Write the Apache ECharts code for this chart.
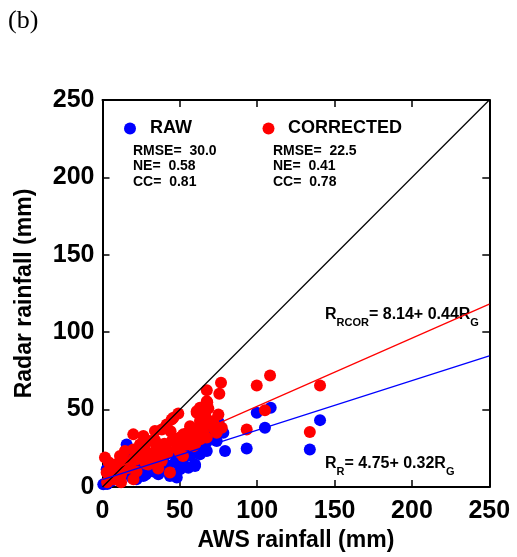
<!DOCTYPE html>
<html>
<head>
<meta charset="utf-8">
<script src="https://cdn.jsdelivr.net/npm/echarts@6/dist/echarts.min.js"></script>
<style>html,body{margin:0;padding:0;background:#fff}#c{width:517px;height:557px}</style>
</head>
<body>
<div id="c"></div>
<script>
// ---- data (AWS rainfall x, Radar rainfall y), mm ----
const rawPoints = [
  [108.7,51.2],[99.7,48],[105,38.3],[140.6,43.2],[134,24.3],[93.2,24.8],[79.2,23.2],
  [67.4,23.2],[73.8,29.7],[78.1,35.1],[68.4,30.8],[59.8,13.5],[48,6.1],
  [15.6,27.5],[2.7,11.4],[18.9,6.1],[26.4,7.1],[36.1,8.2],[43.6,7.1],[50.1,11.4],
  [55.5,12.5],[59.8,14.6],[55.5,21.1],[63,21.1],[66.3,27.5],[68.4,35.1],[17.8,9.3],
  [11.3,5],[4.8,3.9],[30.7,11.4],[24.2,13.5],[0.5,1.7],
  [3,2],[6,4],[9,6],[12,8],[15,10],[20,12],[25,14],[30,15],[35,18],[40,20],[45,22],
  [50,24],[55,26],[60,28],[65,30],[70,33],[22,5],[28,8],[33,10],[38,12],[42,14],
  [47,16],[52,18],[57,20],[62,24],[10,15],[18,20],[25,22],[8,12],[4,8],[72,38],[75,42]
];
const corrPoints = [
  [108.3,72],[99.7,65.6],[140.6,65.6],[76.6,67.3],[75.5,60.2],[67.4,62.5],[105,49.6],
  [93.2,37.2],[134,35.5],[67.7,54.8],[68.4,50.7],[61.9,48.6],[74.9,46.9],[49,47.5],
  [45.8,44.7],[41.5,40.4],[63,42.6],[71.6,42.6],[56.6,39.3],[19.9,34],[26.4,32.9],
  [33.9,36.1],[38.3,37.2],[44.7,43.6],[40.4,38.3],[60.9,49],[60.9,37.2],[64.1,41.5],
  [52.2,34],[46.9,29.7],[1.6,19],[2.7,9.3],[8.1,14.6],[11.3,20],[14.5,23.2],[19.9,24.3],
  [24.2,27.5],[30.7,29.7],[33.9,22.2],[41.5,24.3],[50.1,22.2],[43.6,9.3],[29.6,14.6],
  [11.3,6.1],[7,5],[17.8,12.5],[22.1,17.9],[38.3,16.8],[49,29.7],[54.4,27.5],[67.4,31.9],
  [66.3,46.9],[63,51.2],[67.4,55.4],[66.3,45.8],[60.9,48],[66.3,40.4],[77.1,38.3],
  [73.8,35.1],[60.9,36.1],[63.2,30.8],[58.7,26.4],
  [5,8],[8,5],[10,10],[12,8],[15,12],[18,15],[20,18],[22,10],[25,20],[28,15],[30,22],
  [32,18],[35,25],[38,20],[40,28],[42,22],[45,30],[48,25],[50,32],[52,20],[55,35],
  [58,30],[60,28],[62,33],[65,36],[70,42],[72,38],[12,3],[20,5],[3,3],[6,12],[14,17],
  [24,22],[34,30],[44,36],[36,12],[27,25],[4,16]
];
const fitRaw = [4.75, 0.32];   // intercept, slope
const fitCorr = [8.14, 0.44];
const axisTicks = [0, 50, 100, 150, 200, 250];
const statsRaw = ['RMSE=  30.0', 'NE=  0.58', 'CC=  0.81'];
const statsCorr = ['RMSE=  22.5', 'NE=  0.41', 'CC=  0.78'];

const xMin = axisTicks[0], xMax = axisTicks[axisTicks.length - 1];
const lineOf = f => [[xMin, f[0] + f[1] * xMin], [xMax, f[0] + f[1] * xMax]];

const chart = echarts.init(document.getElementById('c'));
const FONT = 'Liberation Sans, Arial, sans-serif';
const axisCommon = {
  min: xMin, max: xMax, interval: 50,
  axisLine: {show: true, onZero: false, lineStyle: {color: '#000', width: 2}},
  axisTick: {show: true, inside: true, length: 7, lineStyle: {color: '#000', width: 1.5}},
  splitLine: {show: false}
};
const labelStyle = {color: '#000', fontSize: 25, fontWeight: 'bold', fontFamily: FONT};
const nameStyle = {color: '#000', fontSize: 23, fontWeight: 'bold', fontFamily: FONT};

const stat = (x, lines) => lines.map((t, i) => ({
  type: 'text', left: x, top: 144 + i * 15.5,
  style: {text: t, font: 'bold 14px ' + FONT, fill: '#000'}
}));

chart.setOption({
  animation: false,
  grid: {left: 102.5, right: 27.7, top: 100, bottom: 69.3},
  xAxis: [
    Object.assign({}, axisCommon, {type: 'value', position: 'bottom',
      name: 'AWS rainfall (mm)', nameLocation: 'middle', nameGap: 42, nameTextStyle: nameStyle,
      axisLabel: Object.assign({margin: 12}, labelStyle)}),
    Object.assign({}, axisCommon, {type: 'value', position: 'top', axisLabel: {show: false}})
  ],
  yAxis: [
    Object.assign({}, axisCommon, {type: 'value', position: 'left',
      name: 'Radar rainfall (mm)', nameLocation: 'middle', nameGap: 66, nameTextStyle: nameStyle,
      axisLabel: Object.assign({margin: 8}, labelStyle)}),
    Object.assign({}, axisCommon, {type: 'value', position: 'right', axisLabel: {show: false}})
  ],
  series: [
    {type: 'scatter', data: rawPoints, symbolSize: 12, itemStyle: {color: '#0000ff', opacity: 1}, z: 2},
    {type: 'scatter', data: corrPoints, symbolSize: 12, itemStyle: {color: '#ff0000', opacity: 1}, z: 3},
    {type: 'line', data: [[xMin, xMin], [xMax, xMax]], symbol: 'none', lineStyle: {color: '#000', width: 1.2}, z: 4},
    {type: 'line', data: lineOf(fitCorr), symbol: 'none', lineStyle: {color: '#ff0000', width: 1.2}, z: 4},
    {type: 'line', data: lineOf(fitRaw), symbol: 'none', lineStyle: {color: '#0000ff', width: 1.2}, z: 4}
  ],
  graphic: [
    {type: 'text', left: 8, top: 8, style: {text: '(b)', font: '26px "Liberation Serif", "Times New Roman", serif', fill: '#000'}},
    {type: 'circle', shape: {cx: 130, cy: 128.5, r: 6}, style: {fill: '#0000ff'}},
    {type: 'circle', shape: {cx: 268.5, cy: 128.5, r: 6}, style: {fill: '#ff0000'}},
    {type: 'text', left: 150, top: 119, style: {text: 'RAW', font: 'bold 18px ' + FONT, fill: '#000'}},
    {type: 'text', left: 288, top: 119, style: {text: 'CORRECTED', font: 'bold 18px ' + FONT, fill: '#000'}},
    ...stat(133, statsRaw),
    ...stat(273, statsCorr),
    {type: 'text', left: 325, top: 307, style: {
      text: '{a|R}{s|RCOR}{a|= ' + fitCorr[0].toFixed(2) + '+ ' + fitCorr[1].toFixed(2) + 'R}{s|G}',
      rich: {
        a: {font: 'bold 16px ' + FONT, fill: '#000', verticalAlign: 'bottom', lineHeight: 22},
        s: {font: 'bold 11px ' + FONT, fill: '#000', verticalAlign: 'bottom', lineHeight: 22, padding: [0, 0, -5, 0]}
      }}},
    {type: 'text', left: 325, top: 456, style: {
      text: '{a|R}{s|R}{a|= ' + fitRaw[0].toFixed(2) + '+ ' + fitRaw[1].toFixed(2) + 'R}{s|G}',
      rich: {
        a: {font: 'bold 16px ' + FONT, fill: '#000', verticalAlign: 'bottom', lineHeight: 22},
        s: {font: 'bold 11px ' + FONT, fill: '#000', verticalAlign: 'bottom', lineHeight: 22, padding: [0, 0, -5, 0]}
      }}}
  ]
});
</script>
</body>
</html>
